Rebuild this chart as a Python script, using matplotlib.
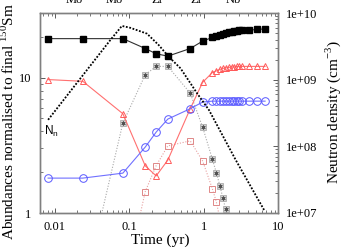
import numpy as np
import matplotlib
matplotlib.use('Agg')
import matplotlib.pyplot as plt
from matplotlib.ticker import LogLocator, NullFormatter

plt.rcParams['font.family'] = ['Liberation Serif', 'DejaVu Serif']
plt.rcParams['mathtext.fontset'] = 'custom'
plt.rcParams['mathtext.rm'] = 'Liberation Serif'

nan = np.nan
times = [0.0081, 0.0237, 0.082, 0.164, 0.23, 0.33, 0.66, 0.97, 1.31, 1.48, 1.66,
         1.82, 1.98, 2.2, 2.4, 2.6, 2.8, 3.0, 3.3, 4.1, 5.3, 6.7]
black_sq = [19.4, 19.4, 19.4, 16.4, 15.0, 14.4, 16.4, 18.6, 19.8, 20.3, 20.8,
            21.1, 21.4, 21.6, 21.8, 22.0, 22.2, 22.3, 22.3, 22.4, 22.7, 22.9]
red_tri = [9.67, 9.39, 5.41, 2.23, 1.88, 2.46, 5.89, 9.23, 10.9, 11.2, 11.5,
           11.7, 11.8, 11.9, 12.0, 12.0, 12.1, 12.1, 12.1, 12.1, 12.1, 12.1]
blue_circ = [1.81, 1.81, 1.97, 3.07, 3.96, 4.94, 5.89, 6.6, 6.7, 6.7, 6.7,
             6.7, 6.7, 6.7, 6.7, 6.7, 6.7, 6.7, 6.7, 6.7, 6.7, 6.7]
gray_ast = [nan, 0.25, 4.62, 10.5, 12.1, 12.1, 7.68, 4.30, 2.50, 1.99, 1.58,
            1.28, 1.065, nan, nan, nan, nan, nan, nan, nan, nan, nan]
red_sq = [nan, nan, 0.26, 1.44, 2.24, 3.13, 3.41, 2.42, 1.51, 1.21, 0.9,
          nan, nan, nan, nan, nan, nan, nan, nan, nan, nan, nan]

nn_time = [0.0081, 0.0553, 0.0796, 0.103, 0.173, 0.249, 0.34, 0.489, 0.82, 1.18, 2.71, 6.53]
nn_dens = [2.5e8, 3.9e9, 6.4e9, 6.0e9, 4.9e9, 3.3e9, 2.2e9, 1.48e9, 6.2e8, 3.5e8, 6.2e7, 1.1e7]

xticks = [0.01, 0.1, 1, 10]
xticklabels = ['0.01', '0.1', '1', '10']
yticks = [1, 10]
yticklabels = ['1', '10']
y2ticks = [1e7, 1e8, 1e9, 1e10]
y2ticklabels = ['1e+07', '1e+08', '1e+09', '1e+10']
top_labels = ['Mo', 'Mo', 'Zr', 'Zr', 'Nb']
top_label_x = [74, 114, 157, 196, 233]

W, H = 354, 248
fig = plt.figure(figsize=(W / 100, H / 100), dpi=100)
ax = fig.add_axes([40 / W, 35 / H, 238 / W, 200 / H])
ax2 = ax.twinx()

spine_col = '#808080'
for a in (ax, ax2):
    for s in a.spines.values():
        s.set_color(spine_col)
        s.set_linewidth(1.0)

ax.plot(times, gray_ast, color='#a8a8a8', ls=(0, (1, 1.5)), lw=0.8, zorder=2)
ax.plot(times, gray_ast, ls='none', marker='s', ms=3.8, mfc='#d0d0d0', mec='#a0a0a0', mew=0.5, zorder=3)
ax.plot(times, gray_ast, ls='none', marker=(6, 2, 0), ms=3.0, mec='#505050', mew=0.5, zorder=4)

ax.plot(times, red_sq, color='#e8a0a0', ls=(0, (1, 1.5)), lw=0.8, marker='s', ms=4.6,
        mfc='none', mec='#e08888', mew=0.7, zorder=3)
ax.plot(times, red_tri, color='#ff7070', lw=0.8, marker='^', ms=4.8,
        mfc='none', mec='#ff5a5a', mew=0.7, zorder=4)
ax.plot(times, blue_circ, color='#7070ff', lw=0.8, marker='o', ms=5.5,
        mfc='none', mec='#5a5aff', mew=0.7, zorder=4)
ax.plot(times, black_sq, color='#303030', lw=0.8, marker='s', ms=4,
        mfc='black', mec='black', zorder=5)

ax2.plot(nn_time, nn_dens, color='black', ls=(0, (1, 0.9)), lw=1.3)

ax.set_xscale('log')
ax.set_yscale('log')
ax2.set_yscale('log')
ax.set_xlim(0.0063, 10)
ax.set_ylim(1, 30)
ax2.set_ylim(1e7, 1e10)

ax.set_xticks(xticks, xticklabels)
ax.set_yticks(yticks, yticklabels)
ax2.set_yticks(y2ticks, y2ticklabels)
for a, axis in ((ax, ax.xaxis), (ax, ax.yaxis), (ax2, ax2.yaxis)):
    axis.set_minor_locator(LogLocator(base=10, subs=np.arange(2, 10), numticks=20))
    axis.set_minor_formatter(NullFormatter())

ax.tick_params(axis='x', which='both', direction='in', top=True, bottom=True,
               colors='black', labelsize=9, pad=6)
ax.tick_params(axis='y', which='both', direction='in', left=True, right=False,
               colors='black', labelsize=9, pad=6)
ax2.tick_params(axis='y', which='both', direction='in', right=True, left=False,
                colors='black', labelsize=9, pad=6)
for a in (ax, ax2):
    a.tick_params(which='major', length=3.5, width=0.6, color='#404040')
    a.tick_params(which='minor', length=2, width=0.5, color='#404040')

fig.text(160 / W, 1 - 240 / H, 'Time (yr)', ha='center', va='center', fontsize=11)
fig.text(8 / W, 8 / H, r'Abundances normalised to final $^{\mathregular{150}}$Sm',
         rotation=90, ha='center', va='bottom', fontsize=11)
fig.text(333 / W, 1 - 112 / H, r'Neutron density (cm$^{\mathregular{-3}}$)',
         rotation=90, ha='center', va='center', fontsize=11)
fig.text(44 / W, 1 - 131 / H, r'N$_{\mathregular{n}}$', ha='left', va='center',
         fontsize=8.5, family=['Liberation Sans', 'DejaVu Sans'])
for lab, px in zip(top_labels, top_label_x):
    fig.text(px / W, 1 - 2.7 / H, lab, ha='center', va='baseline', fontsize=9)

fig.savefig('out.png', dpi=100)
